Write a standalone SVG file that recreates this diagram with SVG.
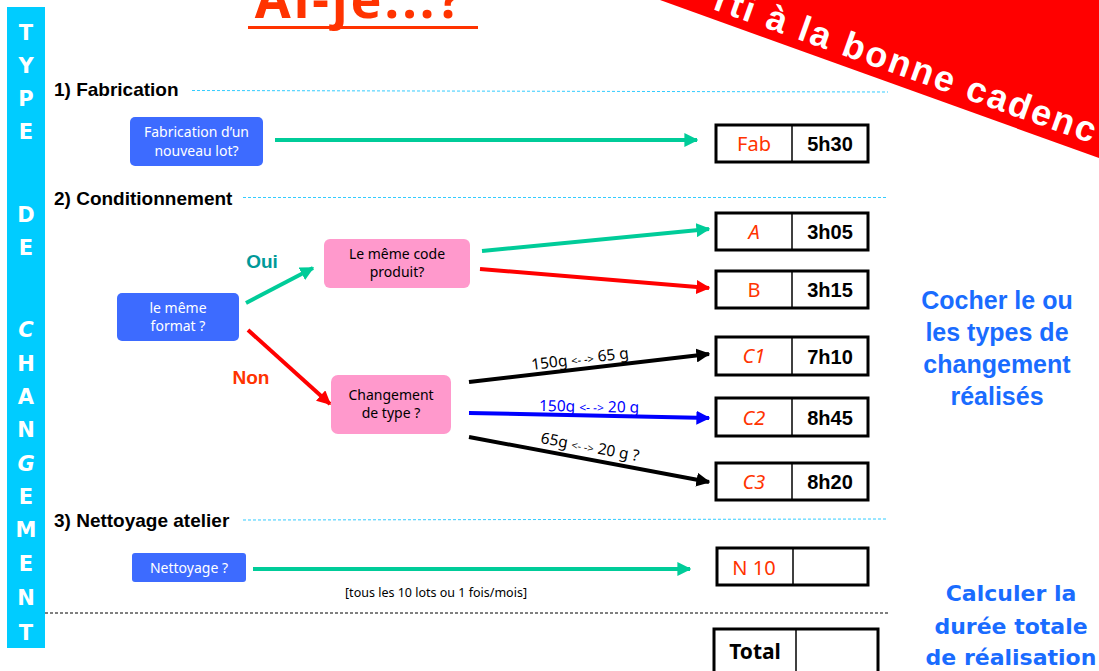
<svg xmlns="http://www.w3.org/2000/svg" width="1099" height="671" viewBox="0 0 1099 671">
<defs>
<style>
.comic{font-family:"Noto Sans","DejaVu Sans",sans-serif}
.arial{font-family:"Liberation Sans",Arial,sans-serif}
.head{font-family:"Liberation Sans",Arial,sans-serif;font-weight:bold;font-size:19px;fill:#000}
.bar{font-family:"DejaVu Sans","Noto Sans",sans-serif;font-weight:bold;font-size:21px;fill:#fff;text-anchor:middle}
.bluebox{fill:#3d6bff}
.pinkbox{fill:#ff99cc}
.wtxt{font-family:"Noto Sans",sans-serif;font-size:14px;fill:#fff;text-anchor:middle}
.ktxt{font-family:"Noto Sans",sans-serif;font-size:14px;fill:#000;text-anchor:middle}
.cell{fill:#fff;stroke:#000;stroke-width:3}
.div{stroke:#000;stroke-width:1.5}
.code{font-family:"Noto Sans",sans-serif;font-size:20px;fill:#ff3300;text-anchor:middle}
.codei{font-family:"Noto Sans",sans-serif;font-size:20px;fill:#ff3300;text-anchor:middle;font-style:italic}
.time{font-family:"Liberation Sans",Arial,sans-serif;font-weight:bold;font-size:20px;fill:#000;text-anchor:middle}
.sep{stroke:#33ccff;stroke-width:1;stroke-dasharray:3,2;fill:none}
.g{stroke:#00cc99;stroke-width:4;fill:none}
.r{stroke:#ff0000;stroke-width:4;fill:none}
.k{stroke:#000;stroke-width:4;fill:none}
.b{stroke:#0000ff;stroke-width:4;fill:none}
.lbl{font-family:"Noto Sans",sans-serif;font-size:15.5px}
.note{font-family:"Liberation Sans",Arial,sans-serif;font-weight:bold;font-size:25px;fill:#1a6cff;text-anchor:middle}
.note2{font-family:"DejaVu Sans",sans-serif;font-weight:bold;font-size:22px;fill:#1a6cff;text-anchor:middle}
</style>
<marker id="ag" viewBox="0 0 10 10" refX="9" refY="5" markerWidth="3.5" markerHeight="3.5" orient="auto" markerUnits="strokeWidth"><path d="M0,0 L10,5 L0,10 z" fill="#00cc99"/></marker>
<marker id="ar" viewBox="0 0 10 10" refX="9" refY="5" markerWidth="3.5" markerHeight="3.5" orient="auto" markerUnits="strokeWidth"><path d="M0,0 L10,5 L0,10 z" fill="#ff0000"/></marker>
<marker id="ak" viewBox="0 0 10 10" refX="9" refY="5" markerWidth="3.5" markerHeight="3.5" orient="auto" markerUnits="strokeWidth"><path d="M0,0 L10,5 L0,10 z" fill="#000"/></marker>
<marker id="ab" viewBox="0 0 10 10" refX="9" refY="5" markerWidth="3.5" markerHeight="3.5" orient="auto" markerUnits="strokeWidth"><path d="M0,0 L10,5 L0,10 z" fill="#0000ff"/></marker>
</defs>
<rect width="1099" height="671" fill="#fff"/>

<!-- title -->
<g id="title">
<text x="360" y="18" class="comic" font-size="52" font-weight="bold" letter-spacing="3" fill="#ff3300" text-anchor="middle">Ai-je...?</text>
<rect x="248" y="26" width="230" height="3" fill="#ff3300"/>
</g>

<!-- red banner -->
<g id="banner">
<polygon points="660,0 1099,0 1099,158" fill="#ff0000"/>
<text transform="translate(712,9) rotate(19.5)" class="arial" font-weight="bold" font-size="36" letter-spacing="2.2" fill="#fff">rti à la bonne cadenc</text>
</g>

<!-- left bar -->
<g id="sidebar">
<rect x="7" y="7" width="38" height="641" fill="#00ccff"/>
<text x="26" y="40" class="bar">T</text>
<text x="26" y="73" class="bar">Y</text>
<text x="26" y="106" class="bar">P</text>
<text x="26" y="139" class="bar">E</text>
<text x="26" y="222" class="bar">D</text>
<text x="26" y="255" class="bar">E</text>
<text x="26" y="337" class="bar" font-style="italic">C</text>
<text x="26" y="371" class="bar">H</text>
<text x="26" y="404" class="bar">A</text>
<text x="26" y="437" class="bar">N</text>
<text x="26" y="471" class="bar" font-style="italic">G</text>
<text x="26" y="504" class="bar">E</text>
<text x="26" y="537" class="bar">M</text>
<text x="26" y="571" class="bar">E</text>
<text x="26" y="605" class="bar">N</text>
<text x="26" y="640" class="bar">T</text>
</g>

<!-- section headings -->
<g id="sections">
<text x="54" y="96" class="head">1) Fabrication</text>
<line x1="192" y1="90.5" x2="888" y2="92" class="sep"/>
<text x="54" y="205" class="head">2) Conditionnement</text>
<line x1="243" y1="197.5" x2="888" y2="197.5" class="sep"/>
<text x="54" y="527" class="head">3) Nettoyage atelier</text>
<line x1="243" y1="520" x2="888" y2="519" class="sep"/>
<line x1="45" y1="613" x2="888" y2="613" stroke="#000" stroke-width="1" stroke-dasharray="3,2"/>
</g>

<!-- connectors -->
<g id="connectors">
<line x1="275" y1="140" x2="697" y2="140" class="g" marker-end="url(#ag)"/>
<line x1="246" y1="303" x2="313" y2="268" class="g" marker-end="url(#ag)"/>
<line x1="248" y1="330" x2="330" y2="404" class="r" marker-end="url(#ar)"/>
<line x1="482" y1="251" x2="709" y2="229" class="g" marker-end="url(#ag)"/>
<line x1="480" y1="269" x2="709" y2="288" class="r" marker-end="url(#ar)"/>
<line x1="469" y1="382" x2="709" y2="354" class="k" marker-end="url(#ak)"/>
<line x1="469" y1="413" x2="709" y2="418" class="b" marker-end="url(#ab)"/>
<line x1="469" y1="437" x2="709" y2="482" class="k" marker-end="url(#ak)"/>
<line x1="253" y1="569" x2="690" y2="569" class="g" marker-end="url(#ag)"/>
<text x="262" y="268" class="arial" font-weight="bold" font-size="19" fill="#009999" text-anchor="middle">Oui</text>
<text x="251" y="384" class="arial" font-weight="bold" font-size="19" fill="#ff3300" text-anchor="middle">Non</text>
<text transform="translate(532,370) rotate(-7)" class="lbl" fill="#000">150g <tspan font-size="11">&lt;- -&gt;</tspan> 65 g</text>
<text transform="translate(539,411) rotate(1)" class="lbl" fill="#0000ff">150g <tspan font-size="12">&lt;- -&gt;</tspan> 20 g</text>
<text transform="translate(540,443) rotate(10.5)" class="lbl" fill="#000">65g <tspan font-size="11">&lt;- -&gt;</tspan> 20 g ?</text>
<text x="436" y="597" class="comic" font-size="12.5" fill="#000" text-anchor="middle">[tous les 10 lots  ou 1 fois/mois]</text>
</g>

<!-- question nodes -->
<g id="q-fabrication">
<rect x="130" y="117" width="133" height="49" rx="5" class="bluebox"/>
<text x="196.5" y="137" class="wtxt">Fabrication d’un</text>
<text x="196.5" y="156" class="wtxt">nouveau lot?</text>
</g>
<g id="q-format">
<rect x="117" y="293" width="122" height="48" rx="5" class="bluebox"/>
<text x="178" y="313" class="wtxt">le même</text>
<text x="178" y="331" class="wtxt">format ?</text>
</g>
<g id="q-code">
<rect x="324" y="239" width="146" height="49" rx="6" class="pinkbox"/>
<text x="397" y="259" class="ktxt">Le même code</text>
<text x="397" y="277" class="ktxt">produit?</text>
</g>
<g id="q-type">
<rect x="331" y="375" width="120" height="59" rx="7" class="pinkbox"/>
<text x="391" y="400" class="ktxt">Changement</text>
<text x="391" y="418" class="ktxt">de type ?</text>
</g>
<g id="q-nettoyage">
<rect x="132" y="553" width="114" height="29" rx="3" class="bluebox"/>
<text x="189" y="573" class="wtxt">Nettoyage ?</text>
</g>

<!-- result tables -->
<g id="t-fab">
<rect x="716" y="125" width="152" height="37" class="cell"/>
<line x1="792" y1="125" x2="792" y2="162" class="div"/>
<text x="754" y="151" class="code">Fab</text>
<text x="830" y="151" class="time">5h30</text>
</g>
<g id="t-a">
<rect x="716" y="213" width="152" height="37" class="cell"/>
<line x1="792" y1="213" x2="792" y2="250" class="div"/>
<text x="754" y="239" class="codei">A</text>
<text x="830" y="239" class="time">3h05</text>
</g>
<g id="t-b">
<rect x="716" y="271" width="152" height="37" class="cell"/>
<line x1="792" y1="271" x2="792" y2="308" class="div"/>
<text x="754" y="297" class="code">B</text>
<text x="830" y="297" class="time">3h15</text>
</g>
<g id="t-c1">
<rect x="716" y="337" width="152" height="38" class="cell"/>
<line x1="792" y1="337" x2="792" y2="375" class="div"/>
<text x="754" y="363" class="codei">C1</text>
<text x="830" y="364" class="time">7h10</text>
</g>
<g id="t-c2">
<rect x="716" y="398" width="152" height="38" class="cell"/>
<line x1="792" y1="398" x2="792" y2="436" class="div"/>
<text x="754" y="425" class="codei">C2</text>
<text x="830" y="425" class="time">8h45</text>
</g>
<g id="t-c3">
<rect x="716" y="463" width="152" height="37" class="cell"/>
<line x1="792" y1="463" x2="792" y2="500" class="div"/>
<text x="754" y="489" class="codei">C3</text>
<text x="830" y="489" class="time">8h20</text>
</g>
<g id="t-n10">
<rect x="717" y="548" width="151" height="37" class="cell"/>
<line x1="793" y1="548" x2="793" y2="585" class="div"/>
<text x="754" y="575" class="code">N 10</text>
</g>
<g id="t-total">
<rect x="714" y="629" width="164" height="50" class="cell"/>
<line x1="796" y1="629" x2="796" y2="671" class="div"/>
<text x="755" y="659" class="comic" font-weight="bold" font-size="21" fill="#000" text-anchor="middle">Total</text>
</g>

<!-- side notes -->
<g id="note-cocher">
<text x="997" y="309" class="note">Cocher le ou</text>
<text x="997" y="341" class="note">les types de</text>
<text x="997" y="373" class="note">changement</text>
<text x="997" y="405" class="note">réalisés</text>
</g>
<g id="note-calculer">
<text x="1011" y="601" class="note2">Calculer la</text>
<text x="1011" y="634" class="note2">durée totale</text>
<text x="1011" y="665" class="note2">de réalisation</text>
</g>
</svg>
